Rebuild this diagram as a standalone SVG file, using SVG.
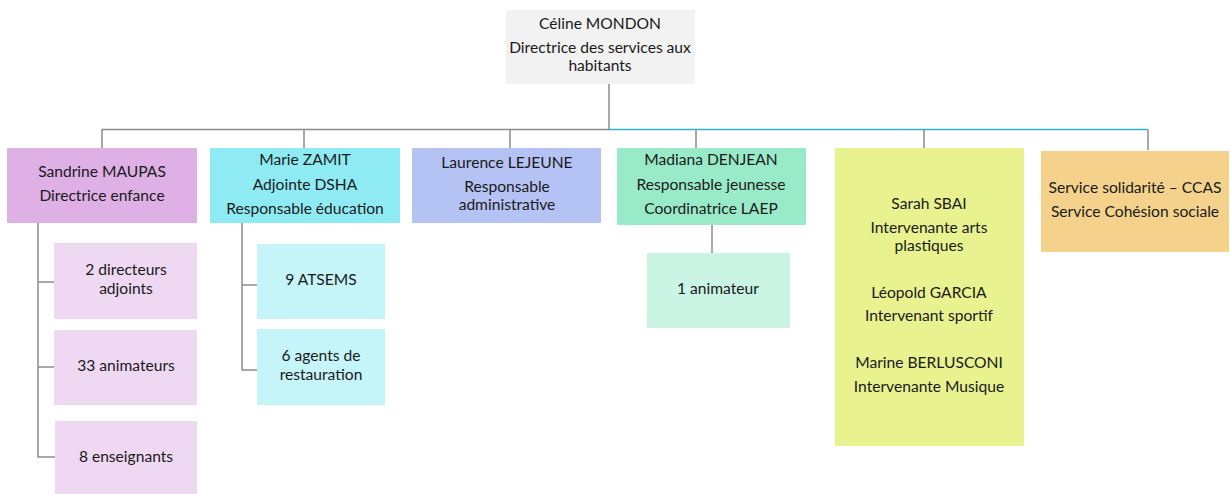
<svg xmlns="http://www.w3.org/2000/svg" width="1230" height="494" viewBox="0 0 1230 494">
<style>
text{font-family:"Lato","Liberation Sans",sans-serif;font-size:15.6px;fill:#1a1a1a;text-anchor:middle}
.c{fill:none;stroke:#8c8c8c;stroke-width:1.5}
.t{fill:none;stroke:#36b0c8;stroke-width:1.6}
</style>
<rect width="1230" height="494" fill="#ffffff"/>
<g id="connectors">
<path class="c" d="M609 84V129.5M102 148V129.5H609M304 148V129.5M510 148V129.5"/>
<path class="t" d="M609 129.5H1148"/>
<path class="c" d="M696 148V129.5M924 148V129.5M1148 150V129.5"/>
<path class="c" d="M38 223V457H55M38 282H55M38 367H55"/>
<path class="c" d="M242 223V370H257M242 285H257"/>
<path class="c" d="M712 225V253"/>
</g>
<g id="n-mondon"><rect x="506" y="10" width="189" height="74" fill="#f2f2f2"/>
<text x="600" y="29">Céline MONDON</text><text x="600" y="53">Directrice des services aux</text><text x="600" y="70.5">habitants</text></g>
<g id="n-maupas"><rect x="7" y="148" width="190" height="75" fill="#dfb0e6"/>
<text x="102" y="177">Sandrine MAUPAS</text><text x="102" y="201">Directrice enfance</text></g>
<g id="n-zamit"><rect x="210" y="148" width="190" height="75" fill="#8eebf4"/>
<text x="305" y="165">Marie ZAMIT</text><text x="305" y="190">Adjointe DSHA</text><text x="305" y="214">Responsable éducation</text></g>
<g id="n-lejeune"><rect x="412" y="148" width="189" height="75" fill="#b5c3f4"/>
<text x="507" y="168">Laurence LEJEUNE</text><text x="507" y="192">Responsable</text><text x="507" y="209.5">administrative</text></g>
<g id="n-denjean"><rect x="617" y="148" width="189" height="77" fill="#98eac9"/>
<text x="711" y="165">Madiana DENJEAN</text><text x="711" y="190">Responsable jeunesse</text><text x="711" y="214">Coordinatrice LAEP</text></g>
<g id="n-intervenants"><rect x="835" y="148" width="189" height="298" fill="#e8f28f"/>
<text x="929" y="209">Sarah SBAI</text><text x="929" y="233">Intervenante arts</text><text x="929" y="250.5">plastiques</text>
<text x="929" y="298">Léopold GARCIA</text><text x="929" y="321">Intervenant sportif</text>
<text x="929" y="368">Marine BERLUSCONI</text><text x="929" y="392">Intervenante Musique</text></g>
<g id="n-ccas"><rect x="1041" y="151" width="188" height="101" fill="#f5d28b"/>
<text x="1135" y="193">Service solidarité – CCAS</text><text x="1135" y="217">Service Cohésion sociale</text></g>
<g id="n-directeurs"><rect x="54" y="243" width="143" height="76" fill="#efd8f2"/>
<text x="126" y="275">2 directeurs</text><text x="126" y="294">adjoints</text></g>
<g id="n-animateurs"><rect x="54" y="330" width="143" height="75" fill="#efd8f2"/>
<text x="126" y="371">33 animateurs</text></g>
<g id="n-enseignants"><rect x="55" y="421" width="142" height="73" fill="#efd8f2"/>
<text x="126" y="462">8 enseignants</text></g>
<g id="n-atsems"><rect x="257" y="244" width="128" height="75" fill="#c5f5f8"/>
<text x="321" y="285">9 ATSEMS</text></g>
<g id="n-restauration"><rect x="257" y="329" width="128" height="76" fill="#c5f5f8"/>
<text x="321" y="361">6 agents de</text><text x="321" y="380">restauration</text></g>
<g id="n-animateur"><rect x="647" y="253" width="143" height="75" fill="#caf4e3"/>
<text x="718" y="294">1 animateur</text></g>
</svg>
